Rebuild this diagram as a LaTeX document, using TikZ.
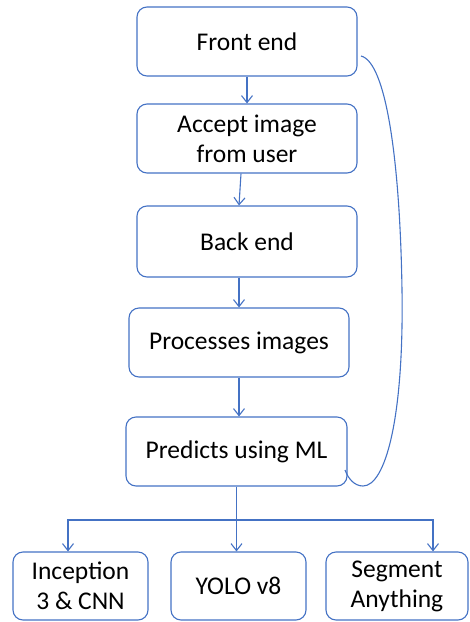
\documentclass[tikz,border=0pt]{standalone}
\usepackage{fontspec}
\setmainfont{Carlito}
\usetikzlibrary{arrows.meta}
\definecolor{lineblue}{HTML}{4472C4}
\begin{document}
\begin{tikzpicture}
    	[x=1pt, y=-1pt,
    	 stage/.style={rectangle, draw=lineblue, line width=1.1pt, rounded corners=10pt, minimum width=220pt, minimum height=69pt, align=center, inner sep=2pt, font=\fontsize{25.5}{30}\selectfont},
    	 model/.style={stage, minimum width=135pt, minimum height=68pt},
    	 flow/.style={-{Straight Barb[length=7pt, width=11pt]}, draw=lineblue, line width=1.1pt}]
    	
    	\useasboundingbox (0,0) rectangle (470,622);
    	
    	\node[stage] (front) at (247,41.5) {Front end};
    	\node[stage] (accept) at (247,138.5) {Accept image\\from user};
    	\node[stage, minimum height=71pt] (back) at (247,241.5) {Back end};
    	\node[stage] (proc) at (239,342.5) {Processes images};
    	\node[stage, minimum width=221pt] (pred) at (236.5,451.5) {Predicts using ML};
    	
    	\node[model] (incep) at (80.5,586) {Inception\\3 \& CNN};
    	\node[model] (yolo) at (238.5,586) {YOLO v8};
    	\node[model, minimum width=142pt] (seg) at (397,586) {Segment\\Anything};
    	
    	\draw[flow] (front) -- (accept);
    	\draw[flow] ([xshift=-6pt]accept.south) -- ([xshift=-8pt]back.north);
    	\draw[flow] ([xshift=-8pt]back.south) -- (proc.north);
    	\draw[flow] (proc.south) -- ([xshift=2.5pt]pred.north);
    	
    	\coordinate (split) at (236,520);
    	\draw[flow] (pred.south) -- (pred.south |- yolo.north);
    	\draw[flow] (split) -| ([xshift=-12.5pt]incep.north);
    	\draw[flow] (split) -| ([xshift=36pt]seg.north);
    	
    	\coordinate (loopa) at (361,56);
    	\coordinate (loopb) at (345,470);
    	\draw[lineblue, line width=1.1pt] (loopa) .. controls (386,62) and (400,160) .. (402,290)
    	    .. controls (404,420) and (385,486) .. (363,486)
    	    .. controls (354,486) and (348,478) .. (loopb);
    \end{tikzpicture}
\end{document}
